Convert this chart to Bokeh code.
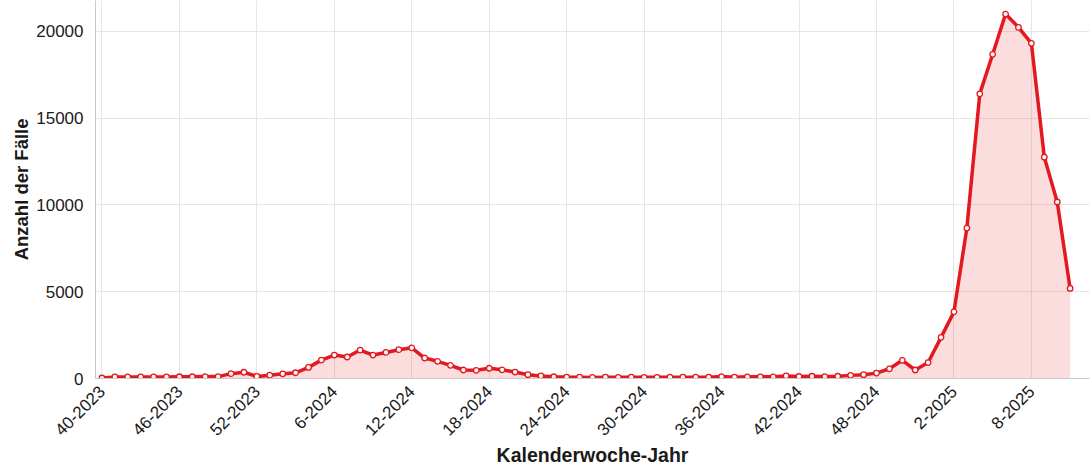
import math
from bokeh.plotting import figure
from bokeh.models import ColumnDataSource, FixedTicker, Range1d, Title
from bokeh.embed import file_html
from bokeh.resources import INLINE

weeks = ([f"{w}-2023" for w in range(40, 53)]
         + [f"{w}-2024" for w in range(1, 53)]
         + [f"{w}-2025" for w in range(1, 13)])

cases = [30, 90, 90, 90, 90, 90, 100, 100, 110, 110,
         280, 360, 120, 190, 270, 330, 640, 1060, 1350, 1240,
         1640, 1350, 1500, 1660, 1770, 1180, 990, 760, 490, 470,
         590, 500, 370, 220, 150, 100, 80, 75, 60, 75,
         65, 75, 65, 65, 75, 75, 75, 75, 110, 75,
         95, 95, 95, 150, 115, 130, 110, 130, 180, 220,
         310, 560, 1050, 490, 920, 2370, 3840, 8670, 16400, 18680,
         21000, 20230, 19310, 12750, 10170, 5190]
cases = cases[:len(weeks)]
weeks = weeks[:len(cases)]

tick_labels = ["40-2023", "46-2023", "52-2023", "6-2024", "12-2024", "18-2024",
               "24-2024", "30-2024", "36-2024", "42-2024", "48-2024", "2-2025", "8-2025"]
y_ticks = [0, 5000, 10000, 15000, 20000]

idx = list(range(len(weeks)))
src = ColumnDataSource(dict(x=idx, y=cases, zero=[0] * len(cases), week=weeks))

tick_pos = [weeks.index(t) for t in tick_labels]

RED = "#e3191f"
FONT = "Liberation Sans"

p = figure(width=1090, height=469, output_backend="svg", toolbar_location=None,
           x_range=Range1d(-0.5, 76.5), y_range=Range1d(0, 21780),
           min_border_left=95, min_border_right=1, min_border_top=0,
           min_border_bottom=90)
p.outline_line_color = None

p.varea(x="x", y1="zero", y2="y", source=src, fill_color=RED, fill_alpha=0.15)
p.line(x="x", y="y", source=src, line_color=RED, line_width=3.5)
p.scatter(x="x", y="y", source=src, size=5.5, fill_color="white",
          line_color=RED, line_width=1.3)

p.xaxis.ticker = FixedTicker(ticks=tick_pos)
p.xaxis.major_label_overrides = {i: weeks[i] for i in tick_pos}
p.xaxis.major_label_orientation = math.pi / 4
p.yaxis.ticker = FixedTicker(ticks=y_ticks)

for ax in (p.xaxis, p.yaxis):
    ax.axis_line_color = "#c8c8c8"
    ax.major_tick_line_color = None
    ax.minor_tick_line_color = None
    ax.major_tick_out = 0
    ax.major_tick_in = 0
    ax.major_label_text_font = FONT
    ax.major_label_text_font_size = "17px"
    ax.major_label_text_color = "#1a1a1a"
    ax.axis_label_text_font = FONT
    ax.axis_label_text_font_size = "19.5px"
    ax.axis_label_text_font_style = "bold"
    ax.axis_label_text_color = "#1a1a1a"

p.yaxis.major_label_standoff = 12
p.xaxis.major_label_standoff = 10
p.xaxis.axis_label = "Kalenderwoche-Jahr"
p.xaxis.axis_label_standoff = 0

ytitle = Title(text="Anzahl der Fälle", align="right", offset=118,
               text_font=FONT, text_font_size="18.5px", text_font_style="bold",
               text_color="#1a1a1a", standoff=4)
p.add_layout(ytitle, "left")

p.grid.grid_line_color = "#e6e6e6"
p.grid.grid_line_width = 1

open("out.html", "w").write(file_html(p, INLINE))
